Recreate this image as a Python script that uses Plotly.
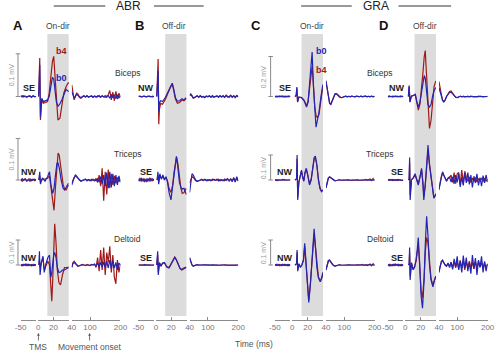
import plotly.graph_objects as go

# ---------------- data (mV relative to baseline; time in ms) ----------------
T1 = [-50, -45, -40, -35, -30, -25, -20, -15, -10, -5, 0]
T3 = [40, 44, 48, 52, 56, 60, 65, 70, 75, 80, 85, 90, 95, 100, 105, 110, 115, 120, 125,
      130, 135, 140, 145, 150, 155, 160, 165, 170, 175, 180, 185, 190, 195, 200]
SHADE_MS = [12, 40]

GROUPS = ["ABR", "GRA"]
PANEL_LETTERS = ["A", "B", "C", "D"]
CONDITIONS = ["On-dir", "Off-dir", "On-dir", "Off-dir"]
MUSCLES = ["Biceps", "Triceps", "Deltoid"]
DIRECTIONS = [["SE", "NW", "NW"], ["NW", "SE", "SE"], ["SE", "NW", "NW"], ["NW", "SE", "SE"]]
SCALE_BAR_AB = [0.1, 0.1, 0.1]
SCALE_BAR_CD = [0.2, 0.1, 0.1]
X_TICKVALS = [[-50, 0], [0, 20, 40], [40, 100, 200]]
X_TICKTEXT = [["-50", ""], ["0", "20", ""], ["40", "100", "200"]]
X_RANGES = [(-50, 0), (0, 40), (40, 200)]

# ---- Panel A (ABR, on-dir)
A_BIC_T2 = [0.5, 2.1, 3.0, 4.7, 6.8, 9.7, 12.3, 14.4, 16.5, 18.6, 20.3, 22.0, 23.7, 25.8, 28.4, 30.9, 33.4, 36.4, 39.4, 40]
A_BIC_B4 = [0.0, 0.090, -0.055, -0.008, -0.016, -0.014, -0.012, 0.008, 0.047, 0.082, 0.094, 0.047, -0.016, -0.055, -0.051, -0.023, 0.008, 0.023, 0.033, 0.030]
A_BIC_B0 = [0.0, 0.074, -0.048, -0.004, -0.012, -0.010, -0.008, 0.0, 0.023, 0.045, 0.041, 0.016, -0.012, -0.023, -0.017, -0.008, 0.004, 0.017, 0.012, 0.012]
A_BIC_B4_PRE = [0.001, -0.001, 0.002, 0.0, -0.002, 0.001, 0.0, -0.001, 0.002, -0.001, 0.0]
A_BIC_B0_PRE = [0.0, 0.002, -0.001, 0.001, -0.001, 0.0, 0.002, -0.002, 0.001, 0.0, 0.0]
A_BIC_B4_POST = [0.027, 0.010, -0.008, 0.0, 0.008, 0.006, -0.002, -0.004, 0.0, 0.002, -0.001, 0.001, -0.002, 0.001, 0.002, -0.001, 0.001, -0.002, 0.002, 0.0, -0.002, 0.002, -0.001, 0.002, -0.002, 0.004, 0.014, -0.008, 0.010, -0.010, 0.012, -0.006, 0.008, -0.002]
A_BIC_B0_POST = [0.012, 0.005, -0.004, 0.001, 0.005, 0.003, -0.001, -0.003, 0.0, 0.001, -0.001, 0.002, -0.001, 0.0, 0.001, -0.002, 0.001, 0.0, -0.001, 0.002, -0.001, 0.001, 0.0, -0.002, 0.001, 0.002, -0.004, 0.005, -0.003, 0.004, -0.005, 0.004, -0.003, 0.002]

A_TRI_T2 = [0.8, 2.1, 3.0, 5.5, 8.9, 12.3, 14.8, 16.9, 19.0, 20.7, 22.5, 24.5, 26.0, 27.5, 30.0, 32.5, 34.5, 36.5, 39.5]
A_TRI_B4 = [0, 0.010, -0.005, 0.002, 0.002, 0.004, 0.010, -0.020, -0.055, -0.073, -0.020, 0.040, 0.065, 0.060, 0.020, -0.010, -0.022, -0.024, -0.012]
A_TRI_B0 = [0, 0.020, -0.010, 0.005, -0.003, 0.008, 0.020, -0.015, -0.032, -0.020, 0.010, 0.040, 0.041, 0.030, 0.000, -0.020, -0.024, -0.018, -0.008]
A_TRI_B4_PRE = [0.002, -0.003, 0.001, 0.003, -0.002, 0.002, -0.003, 0.001, 0.002, -0.002, 0.0]
A_TRI_B0_PRE = [-0.002, 0.003, -0.001, 0.002, -0.003, 0.001, 0.003, -0.002, 0.001, 0.002, 0.0]
A_TRI_B4_POST = [-0.008, 0.0, 0.008, 0.012, 0.010, 0.004, 0.0, -0.003, -0.002, 0.0, 0.002, -0.001, 0.001, -0.002, 0.002, 0.0, -0.002, 0.004, -0.006, 0.012, -0.015, 0.028, -0.050, 0.020, -0.035, 0.025, -0.020, 0.015, -0.012, 0.010, -0.008, 0.006, -0.004, 0.002]
A_TRI_B0_POST = [-0.012, -0.002, 0.006, 0.010, 0.007, 0.003, 0.0, -0.002, -0.001, 0.001, 0.002, -0.002, 0.001, 0.0, -0.002, 0.002, 0.0, -0.002, 0.003, -0.005, 0.008, -0.010, 0.012, -0.015, 0.018, -0.020, 0.020, -0.018, 0.015, -0.015, 0.012, -0.012, 0.010, -0.006]

A_DEL_T2 = [0.8, 1.7, 2.5, 4.2, 6.3, 8.0, 10.2, 12.7, 14.8, 16.5, 17.8, 19.0, 20.3, 21.6, 23.3, 25.0, 27.1, 29.2, 31.7, 34.3, 37.2, 39.8]
A_DEL_B4 = [0, 0.020, -0.010, 0.005, 0.030, -0.020, 0.0, 0.015, 0.0, -0.110, -0.145, -0.060, 0.100, 0.165, 0.090, -0.020, -0.070, -0.080, -0.040, -0.010, -0.010, -0.008]
A_DEL_B0 = [0, 0.055, -0.040, 0.010, 0.035, -0.030, 0.005, 0.030, 0.040, -0.050, -0.030, 0.010, 0.040, 0.050, 0.030, -0.010, -0.030, -0.028, -0.020, -0.020, -0.015, -0.010]
A_DEL_B4_PRE = [0.002, -0.004, 0.003, -0.002, 0.004, -0.003, 0.002, -0.004, 0.003, -0.002, 0.0]
A_DEL_B0_PRE = [-0.003, 0.002, -0.002, 0.004, -0.003, 0.003, -0.002, 0.002, -0.003, 0.002, 0.0]
A_DEL_B4_POST = [-0.010, 0.010, 0.015, 0.008, 0.0, -0.005, -0.004, 0.0, 0.002, 0.0, -0.002, 0.002, 0.0, -0.002, 0.002, 0.0, 0.004, -0.010, 0.030, -0.025, 0.060, -0.020, 0.070, -0.040, 0.050, 0.010, 0.075, -0.030, 0.040, -0.050, -0.075, 0.020, -0.030, 0.005]
A_DEL_B0_POST = [-0.008, 0.006, 0.010, 0.005, 0.0, -0.003, -0.002, 0.0, 0.001, 0.0, -0.001, 0.001, 0.0, -0.001, 0.001, 0.0, 0.002, -0.004, 0.008, -0.006, 0.010, -0.008, 0.012, -0.010, 0.015, -0.012, 0.020, -0.015, 0.018, -0.012, 0.010, -0.020, 0.008, 0.0]

# ---- Panel B (ABR, off-dir)
B_BIC_T2 = [1.0, 2.8, 3.6, 4.5, 6.0, 8.5, 11.9, 14.5, 16.5, 19.0, 21.2, 23.3, 25.4, 27.9, 30.9, 33.9, 36.4, 39.4]
B_BIC_B4 = [0, 0.088, -0.065, -0.030, -0.016, -0.018, -0.008, 0.004, 0.010, 0.022, 0.030, 0.014, -0.006, -0.016, -0.014, -0.008, -0.010, -0.005]
B_BIC_B0 = [0, 0.060, -0.035, -0.015, -0.010, -0.012, -0.003, 0.006, 0.012, 0.024, 0.031, 0.016, -0.003, -0.011, -0.010, -0.005, -0.008, -0.003]
B_BIC_B4_PRE = [0.001, 0.0, -0.001, 0.001, 0.0, -0.001, 0.001, 0.0, -0.001, 0.001, 0.0]
B_BIC_B0_PRE = [0.0, 0.001, -0.001, 0.0, 0.001, -0.001, 0.0, 0.001, 0.0, -0.001, 0.0]
B_BIC_B4_POST = [0.004, 0.006, 0.002, -0.004, -0.003, 0.0, 0.002, -0.002, 0.001, -0.002, 0.0, -0.003, 0.001, -0.001, 0.002, -0.002, 0.0, -0.002, 0.001, 0.002, -0.002, 0.001, -0.001, 0.002, -0.002, 0.003, 0.0, -0.002, 0.003, -0.001, 0.002, -0.003, 0.002, 0.0]
B_BIC_B0_POST = [0.002, 0.004, 0.001, -0.003, -0.002, 0.0, 0.001, -0.001, 0.002, -0.001, 0.0, -0.002, 0.001, 0.0, 0.001, -0.001, 0.002, -0.001, 0.0, 0.001, -0.001, 0.002, -0.001, 0.001, -0.002, 0.002, -0.001, 0.0, 0.002, -0.002, 0.001, -0.001, 0.002, -0.001]

B_TRI_T2 = [1.5, 2.5, 3.5, 5.0, 7.0, 9.0, 11.0, 13.0, 15.0, 17.0, 19.5, 21.5, 23.5, 25.5, 26.7, 28.5, 30.5, 32.5, 34.3, 36.5, 39.5]
B_TRI_B4 = [0, 0.012, -0.006, 0.010, 0.004, 0.008, 0.002, 0.006, -0.002, -0.020, -0.030, -0.015, 0.018, 0.050, 0.055, 0.040, 0.010, -0.020, -0.032, -0.030, -0.020]
B_TRI_B0 = [0, 0.020, -0.010, 0.015, 0.002, 0.012, 0.000, 0.008, -0.005, -0.030, -0.048, -0.020, 0.020, 0.050, 0.057, 0.030, -0.005, -0.018, -0.022, -0.020, -0.035]
B_TRI_B4_PRE = [0.003, -0.002, 0.004, -0.003, 0.002, -0.004, 0.003, -0.002, 0.004, -0.002, 0.0]
B_TRI_B0_PRE = [-0.003, 0.004, -0.002, 0.003, -0.004, 0.002, -0.003, 0.004, -0.002, 0.003, 0.0]
B_TRI_B4_POST = [-0.008, 0.002, 0.008, 0.006, 0.002, -0.002, -0.003, -0.002, 0.0, 0.001, -0.001, 0.002, 0.0, -0.002, 0.001, 0.0, -0.001, 0.002, -0.001, 0.0, 0.002, -0.002, 0.001, 0.0, -0.002, 0.002, 0.001, -0.002, 0.003, -0.002, 0.004, -0.003, 0.005, -0.002]
B_TRI_B0_POST = [-0.030, 0.000, 0.015, 0.012, 0.005, 0.000, -0.003, -0.002, 0.000, 0.002, -0.001, 0.001, -0.002, 0.001, 0.000, -0.002, 0.002, 0.000, -0.001, 0.002, -0.002, 0.001, 0.000, -0.002, 0.002, -0.001, 0.003, -0.002, 0.002, -0.004, 0.006, -0.005, 0.008, -0.003]

B_DEL_T2 = [1.0, 2.2, 3.0, 4.5, 6.5, 8.5, 11.0, 14.0, 17.0, 20.0, 22.5, 24.5, 26.5, 29.0, 31.5, 33.5, 36.0, 39.5]
B_DEL_B4 = [0, 0.040, -0.030, 0.008, -0.004, 0.006, 0.008, -0.006, -0.010, 0.006, 0.024, 0.032, 0.022, 0.002, -0.014, -0.018, -0.012, -0.008]
B_DEL_B0 = [0, 0.055, -0.040, 0.010, -0.005, 0.008, 0.010, -0.008, -0.012, 0.005, 0.022, 0.030, 0.020, 0.000, -0.015, -0.020, -0.015, -0.010]
B_DEL_B4_PRE = [0.001, -0.001, 0.0, 0.001, -0.001, 0.001, 0.0, -0.001, 0.001, 0.0, 0.0]
B_DEL_B0_PRE = [-0.001, 0.001, 0.0, -0.001, 0.002, -0.001, 0.001, 0.0, -0.001, 0.001, 0.0]
B_DEL_B4_POST = [0.025, 0.008, 0.0, -0.004, -0.002, 0.0, 0.001, -0.001, 0.0, 0.001, -0.001, 0.0, 0.001, -0.001, 0.0, 0.001, 0.0, -0.001, 0.001, 0.0, -0.001, 0.0, 0.001, -0.001, 0.0, 0.001, -0.001, 0.0, 0.001, 0.0, -0.001, 0.001, 0.0, 0.0]
B_DEL_B0_POST = [0.030, 0.010, 0.0, -0.005, -0.002, 0.0, 0.001, 0.0, -0.001, 0.0, 0.001, -0.001, 0.0, 0.001, -0.001, 0.0, 0.001, 0.0, -0.001, 0.001, 0.0, -0.001, 0.0, 0.001, 0.0, -0.001, 0.001, 0.0, -0.001, 0.0, 0.001, 0.0, -0.001, 0.0]

# ---- Panel C (GRA, on-dir)
C_BIC_T2 = [3.4, 5.0, 5.9, 6.8, 8.5, 11.9, 15.2, 18.5, 20.5, 22.5, 24.0, 25.8, 27.5, 29.2, 30.9, 32.6, 34.7, 37.3, 39.8]
C_BIC_B4 = [0, 0.004, 0.040, -0.025, -0.003, -0.005, -0.018, -0.045, -0.025, 0.050, 0.110, 0.150, 0.060, -0.050, -0.095, -0.105, -0.090, -0.020, 0.050]
C_BIC_B0 = [0, 0.005, 0.047, -0.028, -0.003, -0.005, -0.020, -0.053, -0.030, 0.060, 0.150, 0.222, 0.050, -0.070, -0.153, -0.120, -0.080, 0.000, 0.060]
C_BIC_B4_PRE = [0.002, -0.003, 0.002, -0.002, 0.003, -0.002, 0.002, -0.003, 0.002, -0.002, 0.0]
C_BIC_B0_PRE = [-0.003, 0.002, -0.002, 0.003, -0.002, 0.003, -0.003, 0.002, -0.002, 0.003, 0.0]
C_BIC_B4_POST = [0.075, 0.040, 0.000, -0.030, -0.038, -0.025, -0.002, 0.012, 0.014, 0.006, -0.002, -0.006, -0.004, 0.000, 0.002, -0.002, 0.001, -0.001, 0.002, 0.000, -0.002, 0.001, 0.000, -0.001, 0.002, -0.001, 0.001, 0.002, -0.001, 0.001, -0.002, 0.002, -0.001, 0.001]
C_BIC_B0_POST = [0.080, 0.035, -0.010, -0.035, -0.040, -0.025, 0.000, 0.014, 0.012, 0.004, -0.004, -0.006, -0.004, 0.000, 0.002, -0.002, 0.001, -0.002, 0.002, 0.000, -0.002, 0.002, 0.000, -0.001, 0.002, -0.002, 0.001, 0.002, -0.002, 0.001, -0.001, 0.002, -0.002, 0.001]

C_TRI_T2 = [3.4, 5.5, 6.2, 7.0, 8.5, 10.0, 11.9, 13.5, 15.0, 16.5, 18.2, 20.0, 22.4, 24.5, 26.5, 28.5, 30.0, 32.0, 34.0, 36.0, 38.1, 39.8]
C_TRI_B4 = [0, 0.004, 0.085, -0.070, -0.008, 0.018, 0.036, 0.012, -0.002, 0.028, 0.042, 0.022, -0.015, 0.002, 0.048, 0.085, 0.090, 0.058, 0.004, -0.030, -0.045, -0.040]
C_TRI_B0 = [0, 0.005, 0.100, -0.080, -0.010, 0.020, 0.040, 0.010, -0.005, 0.030, 0.047, 0.020, -0.020, 0.000, 0.050, 0.090, 0.096, 0.060, 0.000, -0.035, -0.047, -0.040]
C_TRI_B4_PRE = [0.001, -0.002, 0.001, 0.0, -0.001, 0.002, -0.001, 0.0, 0.001, -0.001, 0.0]
C_TRI_B0_PRE = [-0.001, 0.001, -0.002, 0.001, 0.0, -0.001, 0.002, -0.001, 0.0, 0.001, 0.0]
C_TRI_B4_POST = [-0.030, -0.008, 0.008, 0.012, 0.010, 0.005, 0.000, -0.003, -0.002, 0.000, 0.001, -0.001, 0.001, 0.000, -0.001, 0.001, 0.000, -0.001, 0.001, 0.000, -0.001, 0.001, 0.000, -0.001, 0.001, 0.000, -0.001, 0.002, -0.001, 0.001, 0.004, -0.002, 0.006, -0.002]
C_TRI_B0_POST = [-0.032, -0.010, 0.008, 0.013, 0.010, 0.005, 0.000, -0.003, -0.002, 0.000, 0.001, -0.001, 0.000, 0.001, -0.001, 0.000, 0.001, -0.001, 0.000, 0.001, -0.001, 0.000, 0.001, -0.001, 0.000, 0.001, -0.001, 0.000, 0.001, -0.001, 0.001, 0.000, -0.001, 0.000]

C_DEL_T2 = [3.4, 5.5, 6.2, 7.0, 8.5, 10.5, 12.5, 14.5, 16.1, 17.5, 19.5, 21.4, 23.5, 25.5, 27.0, 28.4, 30.0, 32.0, 34.0, 36.4, 38.5, 39.8]
C_DEL_B4 = [0, 0.004, 0.050, -0.020, 0.004, -0.008, 0.002, 0.018, 0.075, 0.015, -0.090, -0.140, -0.075, 0.015, 0.095, 0.125, 0.075, -0.005, -0.048, -0.065, -0.050, -0.030]
C_DEL_B0 = [0, 0.005, 0.060, -0.025, 0.005, -0.010, 0.000, 0.020, 0.087, 0.020, -0.100, -0.150, -0.080, 0.020, 0.110, 0.145, 0.080, -0.010, -0.050, -0.067, -0.050, -0.030]
C_DEL_B4_PRE = [0.002, -0.002, 0.003, -0.003, 0.002, -0.002, 0.003, -0.002, 0.002, -0.003, 0.0]
C_DEL_B0_PRE = [-0.002, 0.003, -0.002, 0.002, -0.003, 0.003, -0.002, 0.002, -0.003, 0.002, 0.0]
C_DEL_B4_POST = [-0.020, 0.004, 0.015, 0.018, 0.010, 0.004, -0.002, -0.004, -0.002, 0.000, 0.001, -0.001, 0.000, 0.001, -0.001, 0.000, 0.001, -0.001, 0.000, 0.001, -0.001, 0.000, 0.001, -0.001, 0.000, 0.002, -0.001, 0.001, -0.002, 0.002, 0.004, -0.003, 0.005, -0.002]
C_DEL_B0_POST = [-0.020, 0.005, 0.018, 0.020, 0.012, 0.004, -0.002, -0.004, -0.002, 0.000, 0.001, 0.000, -0.001, 0.001, 0.000, -0.001, 0.001, 0.000, -0.001, 0.001, 0.000, -0.001, 0.001, 0.000, -0.001, 0.001, 0.000, -0.001, 0.001, 0.000, -0.001, 0.001, 0.000, 0.000]

# ---- Panel D (GRA, off-dir)
D_BIC_T2 = [4.0, 5.0, 6.0, 8.0, 10.5, 13.0, 15.0, 17.0, 19.0, 21.0, 23.0, 24.7, 26.0, 27.5, 29.5, 31.5, 33.5, 35.5, 37.5, 39.8]
D_BIC_B4 = [0, 0.050, -0.025, 0.002, 0.005, 0.010, -0.030, -0.068, -0.040, 0.030, 0.120, 0.200, 0.230, 0.120, -0.060, -0.160, -0.120, -0.020, 0.050, 0.078]
D_BIC_B0 = [0, 0.055, -0.028, 0.002, 0.005, 0.010, -0.025, -0.053, -0.030, 0.020, 0.070, 0.105, 0.090, 0.020, -0.040, -0.053, -0.040, 0.000, 0.030, 0.045]
D_BIC_B4_PRE = [0.002, -0.002, 0.001, -0.003, 0.002, -0.001, 0.002, -0.002, 0.003, -0.001, 0.0]
D_BIC_B0_PRE = [-0.002, 0.003, -0.001, 0.002, -0.002, 0.003, -0.002, 0.001, -0.002, 0.002, 0.0]
D_BIC_B4_POST = [0.075, 0.040, 0.005, -0.020, -0.028, -0.020, 0.000, 0.015, 0.025, 0.028, 0.015, 0.004, -0.004, -0.006, -0.002, 0.002, -0.001, 0.002, -0.002, 0.001, 0.000, -0.002, 0.002, -0.001, 0.001, 0.000, -0.002, 0.002, -0.001, 0.001, -0.002, 0.001, 0.000, 0.001]
D_BIC_B0_POST = [0.045, 0.025, 0.000, -0.018, -0.024, -0.018, 0.000, 0.012, 0.020, 0.022, 0.012, 0.004, -0.003, -0.005, -0.002, 0.001, -0.002, 0.001, 0.000, -0.001, 0.002, -0.001, 0.000, 0.001, -0.002, 0.001, 0.000, -0.001, 0.002, -0.001, 0.000, 0.001, -0.001, 0.000]

D_TRI_T2 = [4.0, 5.0, 5.6, 6.3, 8.0, 10.5, 12.7, 15.0, 16.9, 19.0, 21.2, 23.0, 24.1, 26.0, 28.0, 29.6, 31.5, 33.9, 35.5, 37.2, 39.8]
D_TRI_B4 = [0, 0.004, 0.070, -0.060, 0.002, 0.008, 0.020, 0.002, -0.015, 0.012, 0.040, -0.010, -0.065, -0.020, 0.070, 0.120, 0.065, 0.005, -0.045, -0.070, -0.060]
D_TRI_B0 = [0, 0.005, 0.090, -0.080, 0.000, 0.010, 0.025, 0.000, -0.020, 0.010, 0.047, -0.020, -0.080, -0.020, 0.080, 0.140, 0.060, 0.000, -0.050, -0.073, -0.055]
D_TRI_B4_PRE = [0.001, -0.001, 0.002, -0.002, 0.001, -0.001, 0.002, -0.001, 0.001, -0.002, 0.0]
D_TRI_B0_PRE = [-0.002, 0.002, -0.001, 0.002, -0.002, 0.001, -0.002, 0.002, -0.001, 0.001, 0.0]
D_TRI_B4_POST = [-0.035, -0.008, 0.015, 0.028, 0.018, 0.006, -0.004, 0.006, 0.010, 0.020, -0.010, 0.030, -0.015, 0.025, 0.030, -0.020, 0.040, -0.015, 0.035, 0.010, -0.005, 0.012, -0.010, 0.008, -0.006, 0.010, -0.008, 0.006, -0.004, 0.008, -0.006, 0.005, -0.004, 0.003]
D_TRI_B0_POST = [-0.040, -0.010, 0.020, 0.033, 0.020, 0.005, -0.005, 0.008, 0.012, -0.008, 0.012, -0.015, 0.020, -0.010, 0.025, -0.028, 0.012, -0.022, 0.028, -0.012, 0.030, -0.018, 0.020, -0.030, 0.015, -0.012, 0.025, -0.022, 0.010, -0.025, 0.018, -0.012, 0.020, -0.008]

D_DEL_T2 = [4.0, 5.0, 5.6, 6.3, 8.0, 10.0, 12.0, 14.0, 15.5, 16.9, 18.5, 20.5, 22.4, 24.5, 26.0, 27.8, 29.5, 31.5, 33.5, 36.0, 38.0, 39.8]
D_DEL_B4 = [0, 0.004, 0.050, -0.045, 0.008, -0.015, -0.008, 0.015, 0.050, 0.080, 0.010, -0.100, -0.133, -0.050, 0.050, 0.110, 0.090, 0.000, -0.055, -0.080, -0.060, -0.045]
D_DEL_B0 = [0, 0.005, 0.070, -0.060, 0.010, -0.020, -0.010, 0.020, 0.060, 0.110, 0.020, -0.120, -0.173, -0.060, 0.080, 0.195, 0.120, 0.000, -0.060, -0.087, -0.060, -0.045]
D_DEL_B4_PRE = [0.003, -0.004, 0.002, -0.003, 0.004, -0.002, 0.003, -0.004, 0.002, -0.003, 0.0]
D_DEL_B0_PRE = [-0.003, 0.003, -0.004, 0.002, -0.003, 0.004, -0.002, 0.003, -0.003, 0.002, 0.0]
D_DEL_B4_POST = [-0.025, -0.004, 0.012, 0.016, 0.008, 0.002, -0.004, 0.006, -0.006, 0.010, -0.012, 0.015, -0.010, 0.012, -0.015, 0.020, -0.010, 0.015, -0.020, 0.012, -0.010, 0.015, -0.012, 0.010, -0.015, 0.012, -0.010, 0.015, -0.008, 0.010, -0.012, 0.008, -0.010, 0.004]
D_DEL_B0_POST = [-0.030, -0.005, 0.015, 0.020, 0.010, 0.000, -0.005, 0.008, -0.010, 0.012, -0.018, 0.025, -0.010, 0.035, -0.020, 0.015, -0.030, 0.038, -0.012, 0.030, -0.025, 0.010, -0.035, 0.040, -0.015, 0.028, -0.040, 0.020, -0.010, 0.035, -0.030, 0.015, -0.025, 0.005]

SERIES = [
    [(A_BIC_T2, A_BIC_B4_PRE, A_BIC_B4, A_BIC_B4_POST, A_BIC_B0_PRE, A_BIC_B0, A_BIC_B0_POST),
     (A_TRI_T2, A_TRI_B4_PRE, A_TRI_B4, A_TRI_B4_POST, A_TRI_B0_PRE, A_TRI_B0, A_TRI_B0_POST),
     (A_DEL_T2, A_DEL_B4_PRE, A_DEL_B4, A_DEL_B4_POST, A_DEL_B0_PRE, A_DEL_B0, A_DEL_B0_POST)],
    [(B_BIC_T2, B_BIC_B4_PRE, B_BIC_B4, B_BIC_B4_POST, B_BIC_B0_PRE, B_BIC_B0, B_BIC_B0_POST),
     (B_TRI_T2, B_TRI_B4_PRE, B_TRI_B4, B_TRI_B4_POST, B_TRI_B0_PRE, B_TRI_B0, B_TRI_B0_POST),
     (B_DEL_T2, B_DEL_B4_PRE, B_DEL_B4, B_DEL_B4_POST, B_DEL_B0_PRE, B_DEL_B0, B_DEL_B0_POST)],
    [(C_BIC_T2, C_BIC_B4_PRE, C_BIC_B4, C_BIC_B4_POST, C_BIC_B0_PRE, C_BIC_B0, C_BIC_B0_POST),
     (C_TRI_T2, C_TRI_B4_PRE, C_TRI_B4, C_TRI_B4_POST, C_TRI_B0_PRE, C_TRI_B0, C_TRI_B0_POST),
     (C_DEL_T2, C_DEL_B4_PRE, C_DEL_B4, C_DEL_B4_POST, C_DEL_B0_PRE, C_DEL_B0, C_DEL_B0_POST)],
    [(D_BIC_T2, D_BIC_B4_PRE, D_BIC_B4, D_BIC_B4_POST, D_BIC_B0_PRE, D_BIC_B0, D_BIC_B0_POST),
     (D_TRI_T2, D_TRI_B4_PRE, D_TRI_B4, D_TRI_B4_POST, D_TRI_B0_PRE, D_TRI_B0, D_TRI_B0_POST),
     (D_DEL_T2, D_DEL_B4_PRE, D_DEL_B4, D_DEL_B4_POST, D_DEL_B0_PRE, D_DEL_B0, D_DEL_B0_POST)],
]

# ---------------- layout geometry ----------------
W, H = 499, 352
FONT = "Liberation Sans, Arial, sans-serif"
RED = "#a01818"
BLUE = "#2424b4"


def fx(x):
    return x / W


def fy(y):
    return 1 - y / H


PANEL_LEFT = [15, 136, 276, 392]
SEG_SPANS = [(0, 16), (18, 49.5), (52.5, 102.5)]
ROW_BASE = [96.5, 180, 265]
ROW_SCALE = [[427, 415, 250], [427, 415, 250], [200, 250, 250], [200, 250, 250]]
AXIS_Y = 319.5


def xid(n):
    return "x" if n == 1 else "x%d" % n


def yid(n):
    return "y" if n == 1 else "y%d" % n


def lkey(prefix, n):
    return prefix if n == 1 else "%s%d" % (prefix, n)


fig = go.Figure()
layout = dict(width=W, height=H, margin=dict(l=0, r=0, t=0, b=0),
              paper_bgcolor="white", plot_bgcolor="rgba(0,0,0,0)",
              showlegend=False, font=dict(family=FONT))
shapes = []
annotations = []

for i in range(4):
    left = PANEL_LEFT[i]
    for k in range(3):
        n = i * 3 + k + 1
        a, b = SEG_SPANS[k]
        layout[lkey("xaxis", n)] = dict(
            domain=[fx(left + a), fx(left + b)], range=list(X_RANGES[k]),
            anchor="free", position=fy(AXIS_Y), showline=True, linecolor="#8a8a8a",
            linewidth=1, ticks="inside", ticklen=3, tickwidth=1, tickcolor="#8a8a8a",
            tickvals=X_TICKVALS[k], ticktext=X_TICKTEXT[k],
            tickfont=dict(size=8, color="#777777", family=FONT),
            showgrid=False, zeroline=False, fixedrange=True)
    for j in range(3):
        n = i * 3 + j + 1
        base, s = ROW_BASE[j], ROW_SCALE[i][j]
        layout[lkey("yaxis", n)] = dict(
            domain=[0, 1], range=[-(H - base) / s, base / s], visible=False,
            anchor=xid(i * 3 + 1), fixedrange=True)
        t2, b4pre, b4, b4post, b0pre, b0, b0post = SERIES[i][j]
        for color, segs in ((RED, (b4pre, b4, b4post)), (BLUE, (b0pre, b0, b0post))):
            for k, (tt, vv) in enumerate(zip((T1, t2, T3), segs)):
                fig.add_trace(go.Scatter(
                    x=tt, y=vv, mode="lines", line=dict(color=color, width=1.2),
                    xaxis=xid(i * 3 + k + 1), yaxis=yid(n), hoverinfo="skip",
                    showlegend=False))
    # shaded analysis window
    shapes.append(dict(type="rect", xref=xid(i * 3 + 2), yref="paper",
                       x0=SHADE_MS[0], x1=SHADE_MS[1], y0=fy(316), y1=fy(34),
                       fillcolor="#dcdcdc", line=dict(width=0), layer="below"))

# scale bars (panels A and C)
for i, bars, bx in ((0, SCALE_BAR_AB, 12.3), (2, SCALE_BAR_CD, 271.7)):
    for j in range(3):
        yref = yid(i * 3 + j + 1)
        v = bars[j]
        shapes.append(dict(type="line", xref="paper", yref=yref, x0=fx(bx), x1=fx(bx),
                           y0=0, y1=v, line=dict(color="#8a8a8a", width=1)))
        for yy in (0, v):
            shapes.append(dict(type="line", xref="paper", yref=yref, x0=fx(bx - 2.3),
                               x1=fx(bx + 2.3), y0=yy, y1=yy,
                               line=dict(color="#8a8a8a", width=1)))
        annotations.append(dict(x=fx(bx - 7), y=v / 2, xref="paper", yref=yref,
                                text="%.1f mV" % v, showarrow=False, textangle=-90,
                                font=dict(size=7, color="#9a9a9a", family=FONT),
                                xanchor="center", yanchor="middle"))


def txt(x, y, s, size=9, color="#333333", bold=False):
    annotations.append(dict(x=fx(x), y=fy(y), xref="paper", yref="paper",
                            text=("<b>%s</b>" % s) if bold else s, showarrow=False,
                            font=dict(size=size, color=color, family=FONT),
                            xanchor="center", yanchor="middle"))


# group headers with rules
for g, cx, l1, l2 in ((GROUPS[0], 126, (49, 102), (152, 203)), (GROUPS[1], 380, (303, 355), (403, 457))):
    txt(cx, 6.5, g, size=12, color="#222222")
    for a, b in (l1, l2):
        shapes.append(dict(type="line", xref="paper", yref="paper", x0=fx(a), x1=fx(b),
                           y0=fy(6), y1=fy(6), line=dict(color="#333333", width=1)))

for i, (lx, cx) in enumerate(((12, 53), (137, 173), (257, 314), (388, 430))):
    txt(lx, 25.5, PANEL_LETTERS[i], size=13, color="#111111", bold=True)
    txt(cx, 26, CONDITIONS[i], size=8.5, color="#444444")

# trace tags
txt(56.5, 51.5, "b4", size=9, color=RED, bold=True)
txt(57, 78, "b0", size=9, color=BLUE, bold=True)
txt(323.5, 51.5, "b0", size=9, color=BLUE, bold=True)
txt(323.5, 70, "b4", size=9, color=RED, bold=True)

# muscle names
for j, yy in enumerate((73.5, 153.5, 238.5)):
    txt(125, yy, MUSCLES[j], size=8.5, color="#333333")
    txt(384.5, yy, MUSCLES[j], size=8.5, color="#333333")

# movement directions
DIR_X = [23.5, 144, 286, 401.5]
DIR_Y = [88.3, 172.2, 258]
for i in range(4):
    for j in range(3):
        txt(DIR_X[i], DIR_Y[j], DIRECTIONS[i][j], size=9, color="#222222", bold=True)

# bottom annotations
for ax_x, label in ((33.3, "TMS"), (85.8, "Movement onset")):
    annotations.append(dict(x=fx(ax_x), y=fy(333), xref="paper", yref="paper", text="",
                            showarrow=True, ax=0, ay=9, arrowhead=2, arrowsize=0.7,
                            arrowwidth=0.8, arrowcolor="#555555"))
    txt(ax_x, 347, label, size=8.5, color="#555555")
txt(255, 343.5, "Time (ms)", size=8.5, color="#555555")

layout["shapes"] = shapes
layout["annotations"] = annotations
fig.update_layout(**layout)
fig.write_html("out.html", config={"displayModeBar": False, "staticPlot": True},
               post_script="document.body.style.margin='0px';document.body.style.overflow='hidden';")
